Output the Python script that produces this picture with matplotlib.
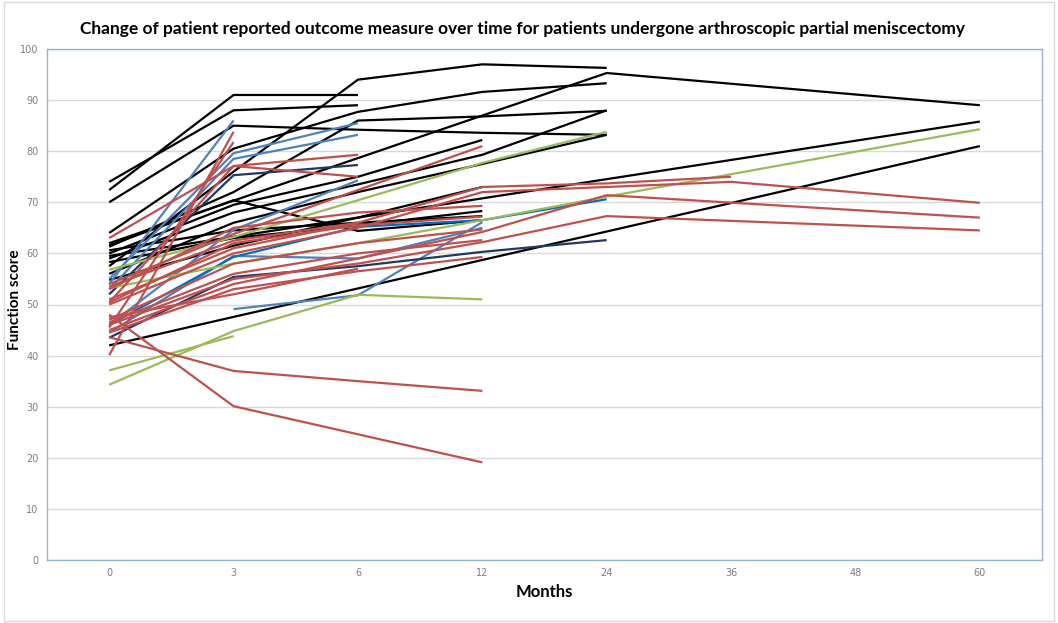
import numpy as np
import matplotlib
matplotlib.use("Agg")
import matplotlib.pyplot as plt
from matplotlib.patches import Rectangle

months = ["0", "3", "6", "12", "24", "36", "48", "60"]
N = None

# one list per patient, values at the month categories (None = not recorded)
black = [
    [72.4, 91, 91],
    [74, 88, 89],
    [70, 85, 84.2, 83.6, 83.2],
    [57.5, 76, 94, 97, 96.3],
    [64, 80.5, 87.7, 91.6, 93.3],
    [61.3, 72, 86, 86.8, 87.9],
    [62, N, N, N, 95.3, N, N, 89],
    [60, 69.5, 75, 82.2],
    [59, 68, 73.5, 79.3, 88],
    [56, 66, 72, 77.5, 83.2],
    [59.5, N, N, N, N, N, N, 85.8],
    [42, N, N, N, N, N, N, 81],
    [61.6, 70.4, 64.4, 66.5],
    [58.3, 63, 65.5, 68.3],
    [60.6, 64.5, 66, 67.3],
    [54.8, 61.5, 67, 73],
]
blue = [
    [54, 86],
    [55, 79.6, 85.5],
    [53, 78.5, 83.2],
    [46, 64.6, 74.3],
    [N, 49.1, 51.8, 66.1],
    [44.5, 59.5, 59, 65],
]
navy = [
    [52, 75.3, 77.3],
    [43.5, 55.4, 57.5, 60.3, 62.6],
]
brightblue = [
    [46, 59.3, 65.2, 66.5, 70.6],
]
green = [
    [56.8, 63.2, 70.4, 77.7, 83.8],
    [53.2, 58, 62, 66.5, 71.1, N, N, 84.3],
    [34.3, 44.8, 51.9, 51.0],
    [37.1, 43.8],
]
red = [
    [40.1, 83.8],
    [45.5, 81.8],
    [63, 77.1, 79.3],
    [50.4, 77.1, 75],
    [54, 63.8, 72.4, 81],
    [51, 61, 66, 73, 73.7, 75],
    [50, 60, 65, 72, 73, 74, N, 69.9],
    [53, 65, 68, 69.3],
    [50.4, 62, 65.5, 67.2],
    [47, 58, 62, 64.7],
    [46.5, 56, 60, 62.6],
    [44.5, 53, 56.5, 59.3],
    [45, 54, 59, 64.2, 71.4, N, N, 67],
    [46, 55, 58, 62.2, 67.3, N, N, 64.5],
    [53.5, 62.5, 66],
    [47.5, 52, 57],
    [48, 30.1, 24.6, 19.1],
    [43.6, 37, 35, 33.1],
]

groups = [
    (black, "#000000"),
    (blue, "#4F81BD"),
    (navy, "#1F3864"),
    (brightblue, "#0070C0"),
    (green, "#9BBB59"),
    (red, "#C0504D"),
]

fam = ["Lato", "DejaVu Sans"]

fig = plt.figure(figsize=(10.58, 6.23), dpi=100)
ax = fig.add_axes([47 / 1058, 63 / 623, 995 / 1058, 511 / 623])

for series, col in groups:
    for vals in series:
        xs = [i for i, v in enumerate(vals) if v is not None]
        ys = [v for v in vals if v is not None]
        ax.plot(xs, ys, color=col, lw=1.6, solid_capstyle="butt")

ax.set_xlim(-0.5, len(months) - 0.5)
ax.set_ylim(0, 100)
ax.set_xticks(range(len(months)))
ax.set_xticklabels(months)
ax.set_yticks(np.arange(0, 101, 10))
ax.tick_params(length=0, labelsize=7, colors="#7F7F7F")
ax.tick_params(axis="x", pad=6)
ax.tick_params(axis="y", pad=6)
ax.yaxis.grid(True, color="#D9D9D9", lw=1)
ax.set_axisbelow(True)
for s in ax.spines.values():
    s.set_color("#95B3D7")
    s.set_linewidth(1)

ax.set_xlabel("Months", fontsize=12, fontweight="bold", family=fam, labelpad=4)
fig.text(15 / 1058, 1 - 300 / 623, "Function score", rotation=90,
         ha="center", va="center", fontsize=11, fontweight="bold", family=fam)
title = fig.text(523 / 1058, 1 - 29 / 623,
                 "Change of patient reported outcome measure over time for patients undergone arthroscopic partial meniscectomy",
                 ha="center", va="center", fontsize=13, fontweight="bold", family=fam)

# fit the title to the width it has in the reference (~880 px)
fig.canvas.draw()
w = title.get_window_extent().width
title.set_fontsize(13 * 880 / w)

fig.patches.append(Rectangle((0.004, 0.004), 0.992, 0.992, transform=fig.transFigure,
                             fill=False, edgecolor="#D9D9D9", lw=1))

fig.savefig("out.png", dpi=100)
